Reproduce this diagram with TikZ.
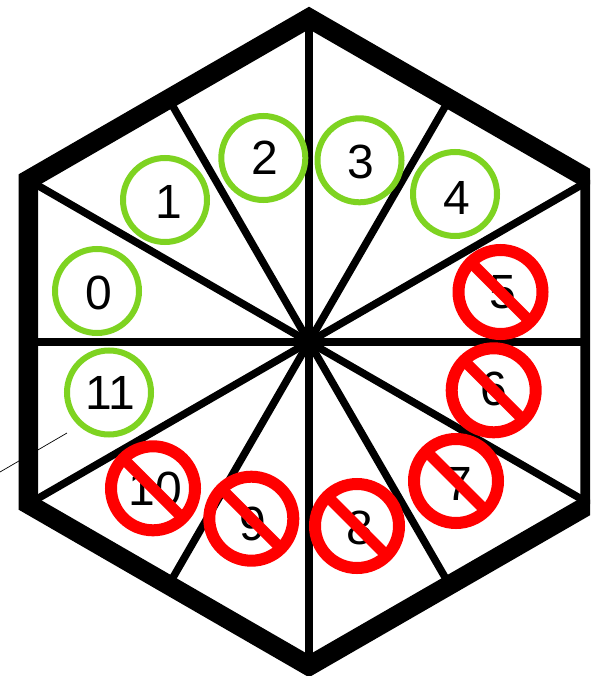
\documentclass[tikz,border=0pt]{standalone}
\usetikzlibrary{calc}
\usepackage{fontspec}
\setmainfont{Liberation Sans}
\definecolor{okgreen}{HTML}{7ED321}
\tikzset{
  spoke/.style={draw=black,line width=7.5pt},
  rim/.style={draw=black,line width=19.5pt,miter limit=10,line join=miter},
  thin/.style={draw=black,line width=0.7pt},
  okring/.style={circle,draw=okgreen,line width=6pt,minimum size=84pt,inner sep=0pt,outer sep=0pt},
  noring/.style={circle,draw=red,line width=12pt,minimum size=84pt,inner sep=0pt,outer sep=0pt},
  slash/.style={draw=red,line width=11pt},
  num/.style={font=\fontsize{48pt}{48pt}\selectfont,text=black,inner sep=0pt,anchor=center}
}
\begin{document}
\begin{tikzpicture}[x=1pt,y=-1pt]
\useasboundingbox (0,0) rectangle (590,676);
\clip (0,0) rectangle (590,676);
\fill[white] (0,0) rectangle (590,676);
% centre and hexagon corners
\coordinate (c) at (309,342);
\coordinate (vt) at (309,18);
\coordinate (vtr) at (590,180);
\coordinate (vbr) at (590,504);
\coordinate (vb) at (309,666);
\coordinate (vbl) at (28.3,504);
\coordinate (vtl) at (28.3,180);
% edge midpoints
\coordinate (mtr) at ($(vt)!0.5!(vtr)$);
\coordinate (mr) at ($(vtr)!0.5!(vbr)$);
\coordinate (mbr) at ($(vbr)!0.5!(vb)$);
\coordinate (mbl) at ($(vb)!0.5!(vbl)$);
\coordinate (ml) at ($(vbl)!0.5!(vtl)$);
\coordinate (mtl) at ($(vtl)!0.5!(vt)$);
% thin line passing behind the rim
\coordinate (ta) at (0,472);
\coordinate (tb) at (67,433);
\draw[thin] (ta) -- (tb);
% spokes
\foreach \p in {vt,mtr,vtr,mr,vbr,mbr,vb,mbl,vbl,ml,vtl,mtl}
  \draw[spoke] (c) -- (\p);
% rim
\draw[rim] (vt) -- (vtr) -- (vbr) -- (vb) -- (vbl) -- (vtl) -- cycle;
% green
\node[okring] (r0) at (97,291) {};
\node[num] (n0) at (98.5,293) {0};
\node[okring] (r1) at (165,200) {};
\node[num] (n1) at (168.5,202) {1};
\node[okring] (r2) at (263.3,158) {};
\node[num] (n2) at (264.5,158) {2};
\node[okring] (r3) at (359.5,160.3) {};
\node[num] (n3) at (360.5,162) {3};
\node[okring] (r4) at (455,194) {};
\node[num] (n4) at (456.5,198) {4};
\node[okring] (r11) at (109,392.5) {};
\node[num] (n11) at (110.5,393) {11};
% red
\foreach \i/\rx/\ry/\tx/\ty in {5/500.5/292/502.5/292,6/493.7/390.3/493.5/389,7/456/481/458.5/484,8/357/526/359.5/528,9/251.3/518.7/252.5/524,10/153/488.3/155.5/489}{
  \node[num] (n\i) at (\tx,\ty) {\i};
  \node[noring] (r\i) at (\rx,\ry) {};
  \draw[slash] (r\i.135) -- (r\i.-45);
}
\end{tikzpicture}
\end{document}
